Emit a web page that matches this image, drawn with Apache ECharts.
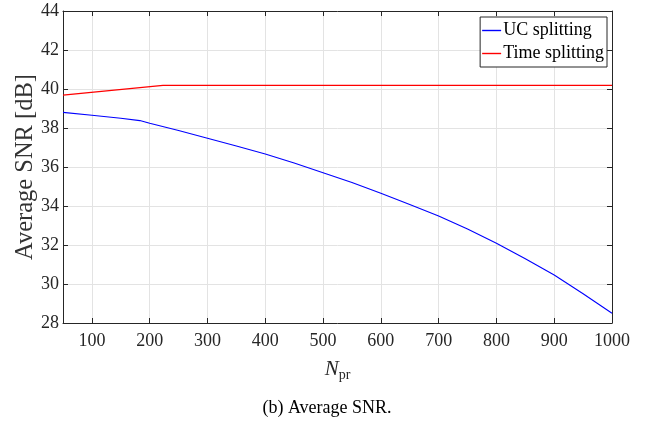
<!DOCTYPE html>
<html>
<head>
<meta charset="utf-8">
<script src="https://cdn.jsdelivr.net/npm/echarts@6/dist/echarts.min.js"></script>
<style>html,body{margin:0;padding:0;background:#fff}#c{width:654px;height:422px}</style>
</head>
<body>
<div id="c"></div>
<script>
const xTicks = [100, 200, 300, 400, 500, 600, 700, 800, 900, 1000];
const ucN =   [50, 100, 150, 183, 200, 250, 300, 350, 400, 450, 500, 550, 600, 650, 700, 750, 800, 850, 900, 950, 1000];
const ucSNR = [38.8, 38.65, 38.5, 38.38, 38.24, 37.87, 37.47, 37.08, 36.67, 36.2, 35.71, 35.2, 34.65, 34.08, 33.49, 32.82, 32.09, 31.3, 30.46, 29.5, 28.5];
const tsN =   [50, 223, 1000];
const tsSNR = [39.69, 40.19, 40.19];

const font = 'Liberation Serif';
const axColor = '#262626';
const chart = echarts.init(document.getElementById('c'));

function pairs(xs, ys) { return xs.map((x, i) => [x, ys[i]]); }

const xBase = {
  type: 'value', min: 50, max: 1000,
  axisLine: { show: true, onZero: false, lineStyle: { color: axColor, width: 1 } },
  axisTick: { show: true, inside: true, length: 5, customValues: xTicks, lineStyle: { color: axColor } },
};
const yBase = {
  type: 'value', min: 28, max: 44, interval: 2,
  axisLine: { show: true, onZero: false, lineStyle: { color: axColor, width: 1 } },
  axisTick: { show: true, inside: true, length: 5, lineStyle: { color: axColor } },
};

chart.setOption({
  animation: false,
  backgroundColor: '#fff',
  textStyle: { fontFamily: font },
  title: {
    text: '(b) Average SNR.', left: 'center', top: 394,
    textStyle: { fontFamily: font, fontSize: 18, fontWeight: 'normal', color: '#000' }
  },
  grid: { left: 63, right: 42, top: 11, bottom: 99 },
  legend: {
    orient: 'vertical', right: 47, top: 17,
    backgroundColor: '#fff', borderColor: '#262626', borderWidth: 1, borderRadius: 0,
    padding: [3, 3, 3, 2], itemGap: 2, itemWidth: 19, itemHeight: 1.4, icon: 'rect',
    textStyle: { fontFamily: font, fontSize: 18, lineHeight: 21, color: '#000', padding: [0, 0, 0, -3] },
    data: ['UC splitting', 'Time splitting']
  },
  xAxis: [
    Object.assign({}, xBase, {
      position: 'bottom',
      name: '{i|N}{s|pr}', nameLocation: 'middle', nameGap: 33, nameMoveOverlap: false,
      nameTextStyle: {
        rich: {
          i: { fontFamily: font, fontStyle: 'italic', fontSize: 21, color: '#262626' },
          s: { fontFamily: font, fontSize: 14, color: '#262626', verticalAlign: 'bottom', padding: [12, 0, 0, 0] }
        }
      },
      axisLabel: { customValues: xTicks, formatter: v => String(v), fontFamily: font, fontSize: 18, color: '#262626', margin: 9 },
      splitLine: { show: true, lineStyle: { color: '#e3e3e3', width: 1 } }
    }),
    Object.assign({}, xBase, {
      position: 'top', axisLabel: { show: false }, splitLine: { show: false }
    })
  ],
  yAxis: [
    Object.assign({}, yBase, {
      position: 'left',
      name: 'Average SNR [dB]', nameLocation: 'middle', nameGap: 25, nameMoveOverlap: false,
      nameTextStyle: { fontFamily: font, fontSize: 24.5, color: '#333' },
      axisLabel: { fontFamily: font, fontSize: 18, color: '#262626', margin: 4 },
      splitLine: { show: true, lineStyle: { color: '#e3e3e3', width: 1 } }
    }),
    Object.assign({}, yBase, {
      position: 'right', axisLabel: { show: false }, splitLine: { show: false }
    })
  ],
  series: [
    {
      name: 'UC splitting', type: 'line', data: pairs(ucN, ucSNR), showSymbol: false, symbol: 'none',
      lineStyle: { color: '#0000ff', width: 1.1 }, itemStyle: { color: '#0000ff' }, z: 3
    },
    {
      name: 'Time splitting', type: 'line', data: pairs(tsN, tsSNR), showSymbol: false, symbol: 'none',
      lineStyle: { color: '#ff0000', width: 1.2 }, itemStyle: { color: '#ff0000' }, z: 3
    }
  ]
});
</script>
</body>
</html>
